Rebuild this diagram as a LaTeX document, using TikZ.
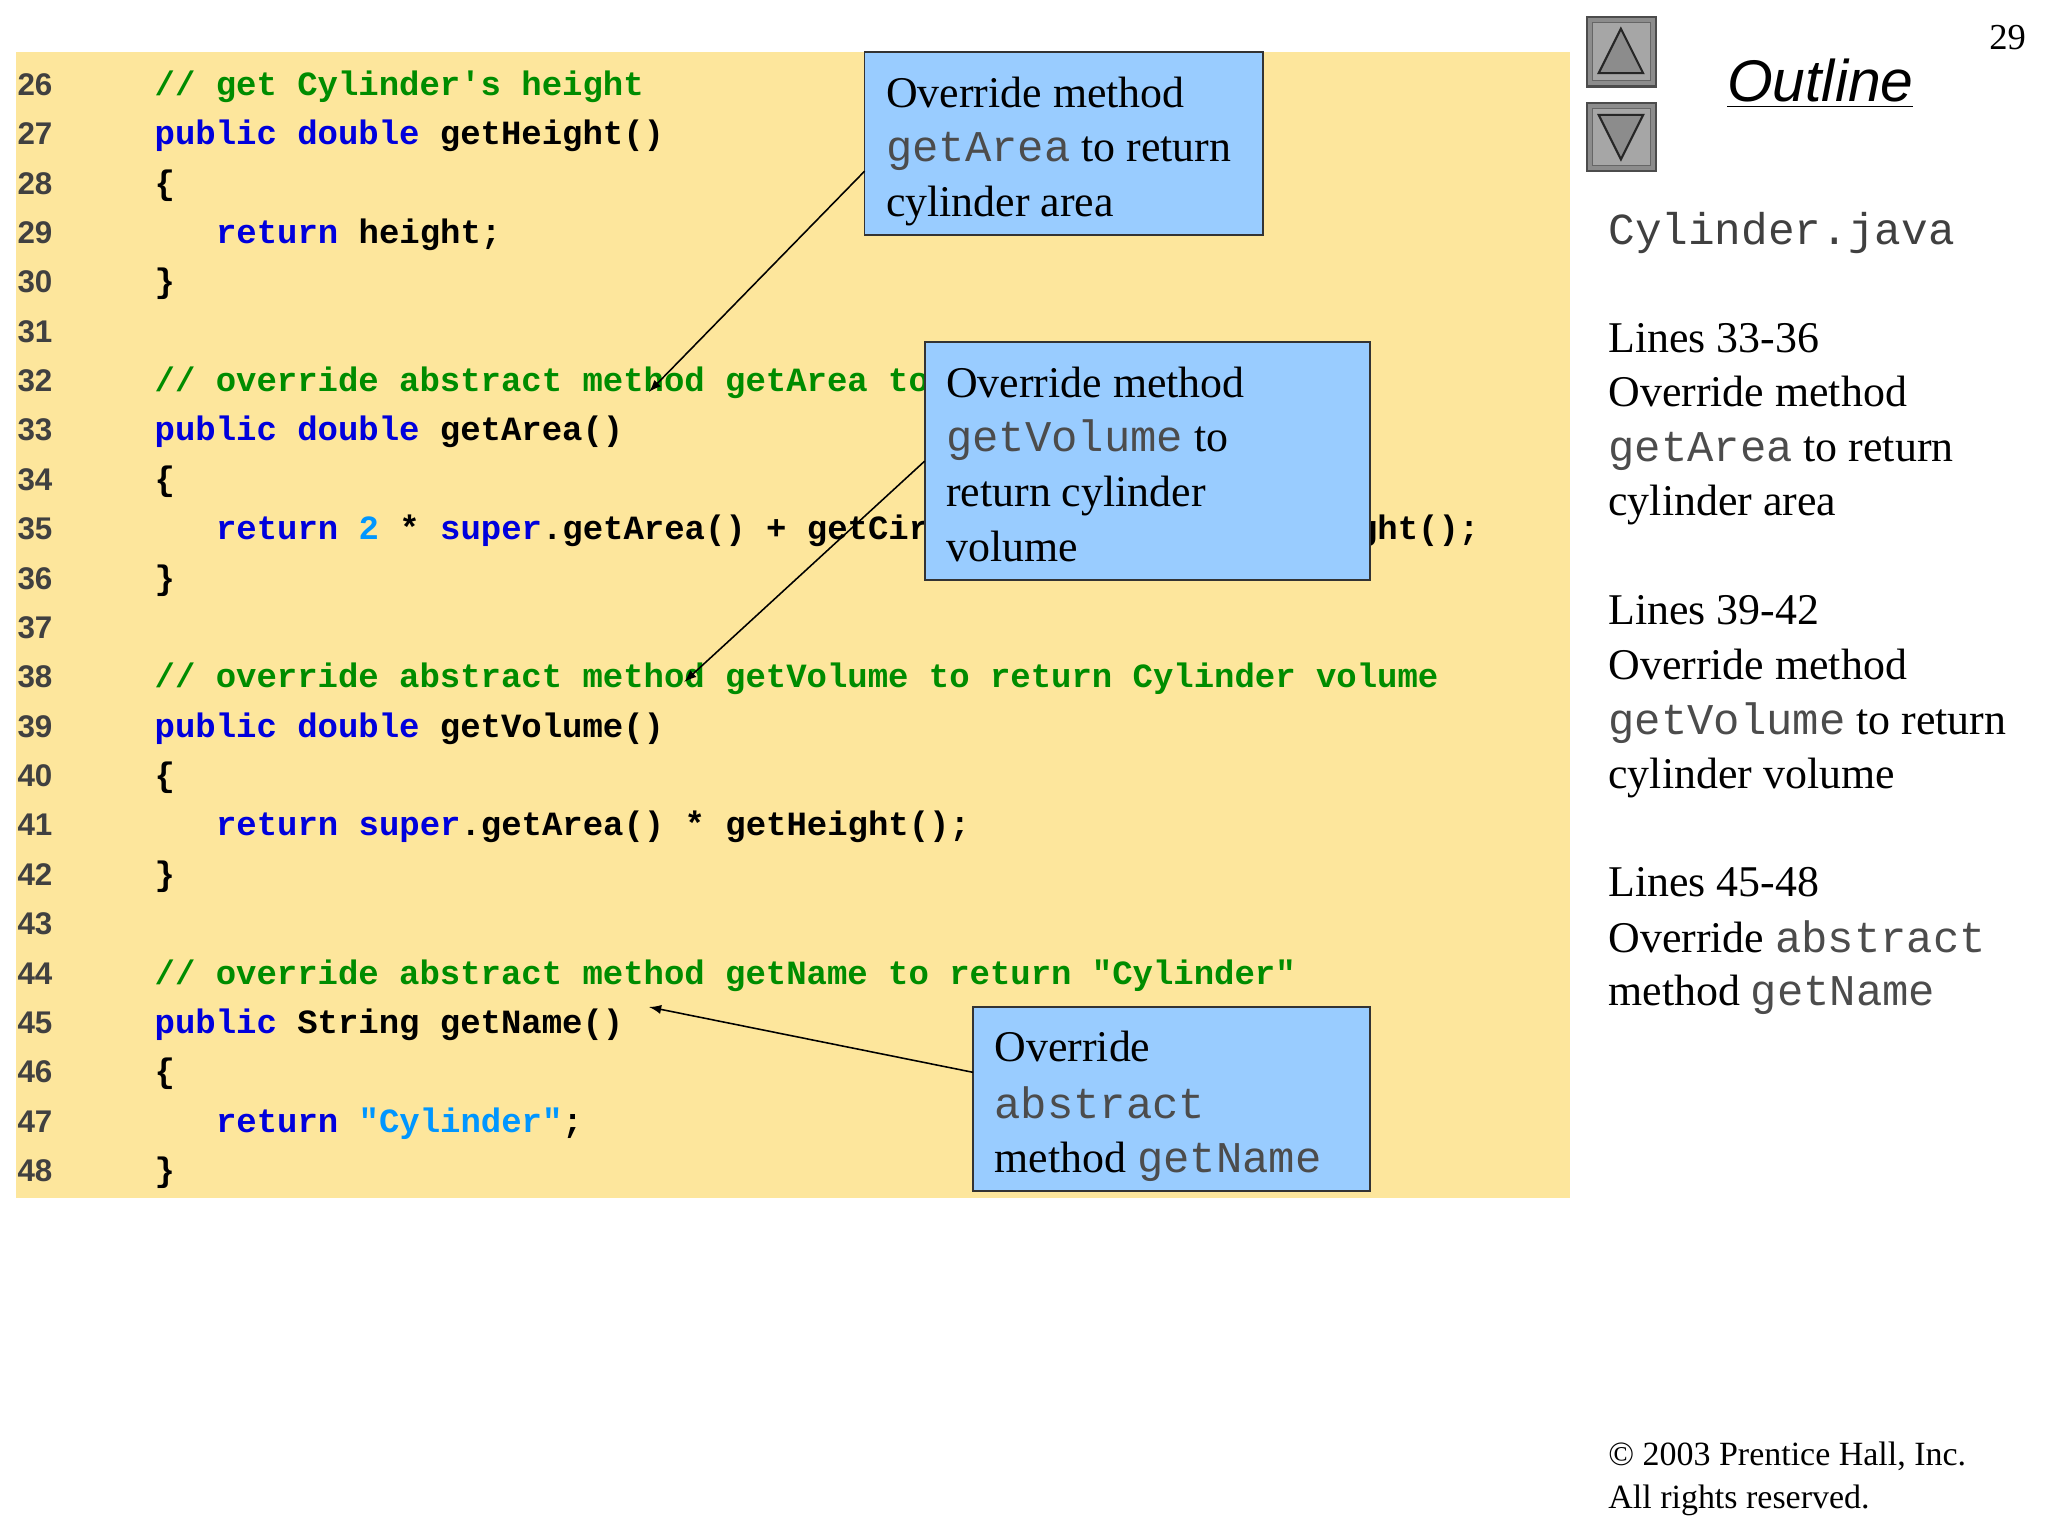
\documentclass[tikz,border=0pt]{standalone}
\usepackage{fontspec}
\setmainfont{Liberation Serif}
\newfontfamily\cmono{Liberation Mono}
\newfontfamily\lsans{Liberation Sans}
\begin{document}
\begin{tikzpicture}[x=0.5pt,y=-0.5pt,
  code/.style={anchor=base west,inner sep=0pt,font=\cmono\bfseries\fontsize{13}{13}\selectfont},
  num/.style={anchor=base west,inner sep=0pt,font=\lsans\bfseries\fontsize{12}{12}\selectfont,text=black!75},
  txt/.style={anchor=base west,inner sep=0pt,font=\fontsize{16.8}{16.8}\selectfont},
  callout/.style={draw=black!80,line width=0.6pt,fill=calloutblue},
  arr/.style={-latex,line width=0.6pt}]
\definecolor{codebg}{RGB}{253,230,156}
\definecolor{calloutblue}{RGB}{153,204,255}
\definecolor{kw}{RGB}{0,0,220}
\definecolor{cm}{RGB}{0,140,0}
\definecolor{lit}{RGB}{0,150,255}
\newcommand{\kwd}[1]{\textcolor{kw}{#1}}
\newcommand{\cmt}[1]{\textcolor{cm}{#1}}
\newcommand{\lt}[1]{\textcolor{lit}{#1}}
\newcommand{\gm}[1]{{\cmono\textcolor{black!70}{#1}}}
\useasboundingbox (0,0) rectangle (1568,1176);
\fill[codebg] (12,40) rectangle (1202,917);
% line numbers
\foreach \n [count=\i from 0] in {26,...,48}
  \node[num] (n\n) at (13,{73+37.8*\i}) {\n};
\def\yy#1{{73+37.8*(#1-26)}}
\node[code] (c26) at (118,\yy{26}) {\cmt{// get Cylinder's height}};
\node[code] (c27) at (118,\yy{27}) {\kwd{public double} getHeight()};
\node[code] (c28) at (118,\yy{28}) {\{};
\node[code] (c29) at (165,\yy{29}) {\kwd{return} height;};
\node[code] (c30) at (118,\yy{30}) {\}};
\node[code] (c32) at (118,\yy{32}) {\cmt{// override abstract method getArea to return Cylinder area}};
\node[code] (c33) at (118,\yy{33}) {\kwd{public double} getArea()};
\node[code] (c34) at (118,\yy{34}) {\{};
\node[code] (c35) at (165,\yy{35}) {\kwd{return} \lt{2} * \kwd{super}.getArea() + getCircumference() * getHeight();};
\node[code] (c36) at (118,\yy{36}) {\}};
\node[code] (c38) at (118,\yy{38}) {\cmt{// override abstract method getVolume to return Cylinder volume}};
\node[code] (c39) at (118,\yy{39}) {\kwd{public double} getVolume()};
\node[code] (c40) at (118,\yy{40}) {\{};
\node[code] (c41) at (165,\yy{41}) {\kwd{return super}.getArea() * getHeight();};
\node[code] (c42) at (118,\yy{42}) {\}};
\node[code] (c44) at (118,\yy{44}) {\cmt{// override abstract method getName to return "Cylinder"}};
\node[code] (c45) at (118,\yy{45}) {\kwd{public} String getName()};
\node[code] (c46) at (118,\yy{46}) {\{};
\node[code] (c47) at (165,\yy{47}) {\kwd{return} \lt{"Cylinder"};};
\node[code] (c48) at (118,\yy{48}) {\}};
% callouts
\draw[callout] (662,40) rectangle (967,180);
\node[txt] (b1a) at (678,82) {Override method};
\node[txt] (b1b) at (678,124) {\gm{getArea} to return};
\node[txt] (b1c) at (678,166) {cylinder area};
\coordinate (s1) at (662,131);
\coordinate (t1) at (497,300);
\draw[arr] (s1) -- (t1);
\draw[callout] (708,262) rectangle (1049,444);
\node[txt] (b2a) at (724,304) {Override method};
\node[txt] (b2b) at (724,346) {\gm{getVolume} to};
\node[txt] (b2c) at (724,388) {return cylinder};
\node[txt] (b2d) at (724,430) {volume};
\coordinate (s2) at (708,353);
\coordinate (t2) at (524,522);
\draw[arr] (s2) -- (t2);
\draw[callout] (745,771) rectangle (1049,912);
\node[txt] (b3a) at (761,813) {Override};
\node[txt] (b3b) at (761,856) {\gm{abstract}};
\node[txt] (b3c) at (761,898) {method \gm{getName}};
\coordinate (s3) at (745,821);
\coordinate (t3) at (497,771);
\draw[arr] (s3) -- (t3);
% navigation buttons
\draw[fill=black!45,draw=black!70,line width=1pt] (1215,13) rectangle (1268,66);
\draw[fill=black!35,draw=black!60] (1219,17) rectangle (1264,62);
\draw[fill=black!45,draw=black!85,line width=0.8pt] (1241,22) -- (1258,56) -- (1224,56) -- cycle;
\draw[fill=black!45,draw=black!70,line width=1pt] (1215,79) rectangle (1268,131);
\draw[fill=black!35,draw=black!60] (1219,83) rectangle (1264,127);
\draw[fill=black!45,draw=black!85,line width=0.8pt] (1224,88) -- (1258,88) -- (1241,122) -- cycle;
\node[anchor=base,inner sep=0pt,font=\fontsize{14}{14}\selectfont] (pg) at (1537,38) {29};
\node[anchor=base west,inner sep=0pt,font=\lsans\itshape\fontsize{22.5}{22.5}\selectfont] (outl) at (1322,78) {\underline{Outline}};
% right panel
\node[anchor=base west,inner sep=0pt,font=\cmono\fontsize{17}{17}\selectfont,text=black!75] (fn) at (1231,187) {Cylinder.java};
\node[txt] (r1) at (1231,270) {Lines 33-36};
\node[txt] (r2) at (1231,311) {Override method};
\node[txt] (r3) at (1231,353) {\gm{getArea} to return};
\node[txt] (r4) at (1231,395) {cylinder area};
\node[txt] (r5) at (1231,478) {Lines 39-42};
\node[txt] (r6) at (1231,520) {Override method};
\node[txt] (r7) at (1231,562) {\gm{getVolume} to return};
\node[txt] (r8) at (1231,604) {cylinder volume};
\node[txt] (r9) at (1231,686) {Lines 45-48};
\node[txt] (r10) at (1231,729) {Override \gm{abstract}};
\node[txt] (r11) at (1231,770) {method \gm{getName}};
\node[anchor=base west,inner sep=0pt,font=\fontsize{13}{13}\selectfont] (cp1) at (1231,1122) {\textcopyright{} 2003 Prentice Hall, Inc.};
\node[anchor=base west,inner sep=0pt,font=\fontsize{13}{13}\selectfont] (cp2) at (1231,1155) {All rights reserved.};
\end{tikzpicture}
\end{document}
